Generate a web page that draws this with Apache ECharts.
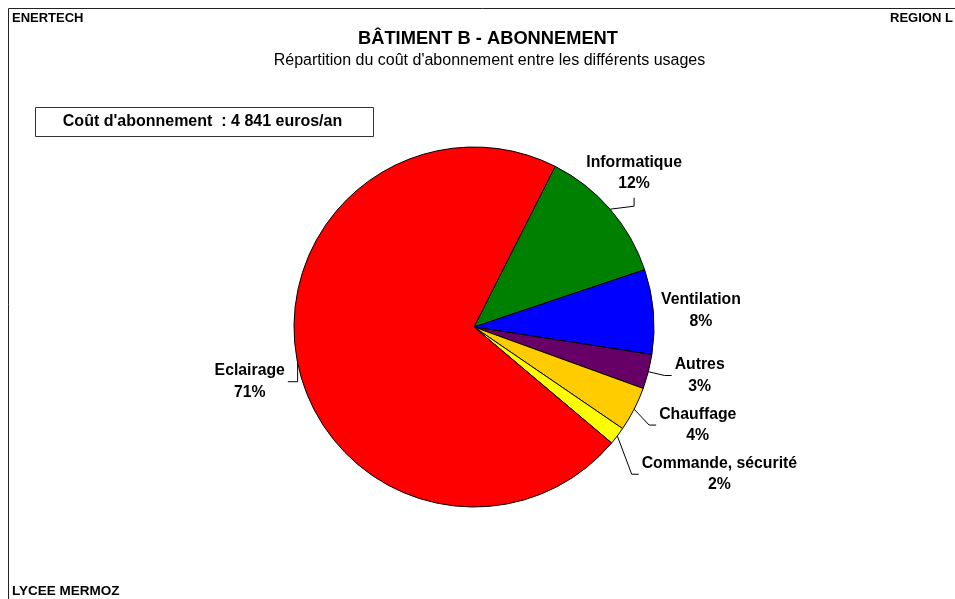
<!DOCTYPE html>
<html>
<head>
<meta charset="utf-8">
<script src="https://cdn.jsdelivr.net/npm/echarts@6/dist/echarts.min.js"></script>
<style>html,body{margin:0;padding:0;background:#fff;}#c{width:955px;height:599px;}</style>
</head>
<body>
<div id="c"></div>
<script>
// ---- data ----
var categories = ['Informatique', 'Ventilation', 'Autres', 'Chauffage', 'Commande, sécurité', 'Eclairage'];
var shares = [12.4, 7.6, 3.1, 4.0, 1.6, 71.3];   // % of subscription cost
var totalCost = '4 841';
var titleText = 'BÂTIMENT B - ABONNEMENT';
var subtitleText = "Répartition du coût d'abonnement entre les différents usages";

// ---- styles ----
var colors = ['#008000', '#0000FF', '#660066', '#FFCC00', '#FFFF00', '#FF0000'];
var FONT = "'Liberation Sans', Arial, sans-serif";
var CX = 474, CY = 327, R = 180, START = 63.2;
// label centre offset from slice edge point, and leader style
var labelOffsets = [[24, -36], [47.6, -1.2], [51.3, 3.8], [63.6, 15.9], [102.1, 38.3], [-47.9, 18.7]];
var leaderMode = ['top', 'none', 'right', 'right', 'right', 'left'];

var total = shares.reduce(function (a, b) { return a + b; }, 0);
function edgePoint(i) {
  var acc = 0;
  for (var k = 0; k < i; k++) acc += shares[k];
  var mid = (acc + shares[i] / 2) / total * 360; // clockwise from start
  var a = (START - mid) * Math.PI / 180;
  return [CX + R * Math.cos(a), CY - R * Math.sin(a)];
}

var chart = echarts.init(document.getElementById('c'), null, { renderer: 'canvas' });
var data = categories.map(function (n, i) {
  var d = { name: n, value: shares[i], itemStyle: { color: colors[i] } };
  if (leaderMode[i] === 'none') d.labelLine = { show: false };
  return d;
});

chart.setOption({
  animation: false,
  backgroundColor: '#fff',
  graphic: [
    { type: 'rect', shape: { x: 8.5, y: 8.5, width: 1200, height: 800 }, style: { fill: 'none', stroke: '#222', lineWidth: 1 }, silent: true },
    { type: 'text', x: 12, y: 18, style: { text: 'ENERTECH', font: 'bold 13px ' + FONT, fill: '#000', textVerticalAlign: 'middle' } },
    { type: 'text', x: 890, y: 18, style: { text: 'REGION L', font: 'bold 13px ' + FONT, fill: '#000', textVerticalAlign: 'middle' } },
    { type: 'text', x: 12, y: 591, style: { text: 'LYCEE MERMOZ', font: 'bold 13.5px ' + FONT, fill: '#000', textVerticalAlign: 'middle' } },
    { type: 'text', x: 488, y: 39, style: { text: titleText, font: 'bold 18.3px ' + FONT, fill: '#000', textAlign: 'center', textVerticalAlign: 'middle' } },
    { type: 'text', x: 489.5, y: 61, style: { text: subtitleText, font: '16px ' + FONT, fill: '#000', textAlign: 'center', textVerticalAlign: 'middle' } },
    { type: 'rect', shape: { x: 35.5, y: 107.5, width: 338, height: 29 }, style: { fill: '#fff', stroke: '#333', lineWidth: 1 } },
    { type: 'text', x: 202.5, y: 122, style: { text: "Coût d'abonnement  : " + totalCost + ' euros/an', font: 'bold 16px ' + FONT, fill: '#000', textAlign: 'center', textVerticalAlign: 'middle' } }
  ],
  series: [{
    type: 'pie',
    center: [CX, CY],
    radius: [0, R],
    startAngle: START,
    clockwise: true,
    avoidLabelOverlap: false,
    percentPrecision: 0,
    data: data,
    itemStyle: { borderColor: '#000', borderWidth: 1 },
    emphasis: { disabled: true },
    label: {
      show: true,
      position: 'outside',
      formatter: '{b}\n{d}%',
      fontFamily: FONT,
      fontWeight: 'bold',
      fontSize: 15.8,
      lineHeight: 21.5,
      color: '#000'
    },
    labelLine: { show: true, length: 6, length2: 6, lineStyle: { color: '#000', width: 1 } },
    labelLayout: function (p) {
      var i = p.dataIndex;
      var e = edgePoint(i);
      var lx = e[0] + labelOffsets[i][0];
      var ly = e[1] + labelOffsets[i][1];
      var w = p.labelRect.width, h = p.labelRect.height;
      var left = lx - w / 2, right = lx + w / 2, bottom = ly + h / 2;
      var pts;
      if (leaderMode[i] === 'top') pts = [e, [lx, e[1] - 3], [lx, bottom + 3]];
      else if (leaderMode[i] === 'right') pts = [e, [left - 10, ly], [left - 3, ly]];
      else if (leaderMode[i] === 'left') pts = [e, [e[0], ly], [right + 3, ly]];
      else pts = [e, e, e];
      return { x: lx, y: ly, align: 'center', verticalAlign: 'middle', labelLinePoints: pts };
    }
  }]
});
</script>
</body>
</html>
